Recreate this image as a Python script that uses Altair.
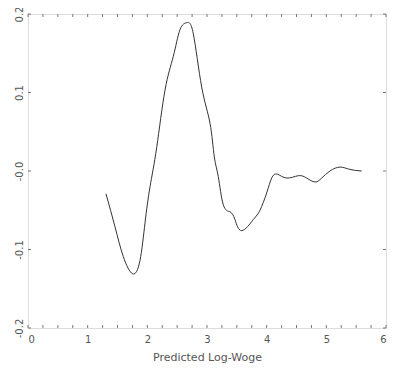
import altair as alt
import pandas as pd

# Curve values
xs = [1.307, 1.458, 1.597, 1.755, 1.877, 1.961, 2.045, 2.157, 2.296, 2.435,
      2.547, 2.660, 2.770, 2.911, 3.050, 3.122, 3.189, 3.273, 3.385, 3.469,
      3.581, 3.776, 3.888, 4.000, 4.084, 4.178, 4.336, 4.530, 4.671, 4.810,
      4.922, 5.061, 5.229, 5.396, 5.593]
ys = [-0.029, -0.071, -0.109, -0.131, -0.114, -0.066, -0.020, 0.030, 0.103, 0.146,
      0.180, 0.189, 0.175, 0.107, 0.061, 0.018, -0.007, -0.043, -0.052, -0.062,
      -0.076, -0.062, -0.050, -0.028, -0.009, -0.004, -0.009, -0.006, -0.009, -0.014,
      -0.009, 0.000, 0.005, 0.002, 0.000]

x_labels = [0, 1, 2, 3, 4, 5, 6]
x_ticks = [i * 0.25 for i in range(25)]
y_ticks = [-0.2, -0.1, 0.0, 0.1, 0.2]

W, H = 358, 314
TICK = 3
GRAY = "#777777"
TXT = "#555555"

curve = pd.DataFrame({"x": xs, "y": ys})
xt = pd.DataFrame({"x": x_ticks})
yt = pd.DataFrame({"y": y_ticks})

xscale = alt.Scale(domain=[0, 6], nice=False, zero=False)
yscale = alt.Scale(domain=[-0.2, 0.2], nice=False, zero=False)

line = alt.Chart(curve).mark_line(color="#333333", strokeWidth=1, interpolate="natural").encode(
    x=alt.X("x:Q", scale=xscale,
            axis=alt.Axis(values=x_labels, format="d", ticks=False, domain=False, grid=False,
                          labelPadding=6, labelColor=TXT, labelFontSize=10,
                          labelFont="DejaVu Sans", title="Predicted Log-Woge",
                          titleFont="DejaVu Sans", titleFontSize=11, titleFontWeight="normal",
                          titleColor=TXT, titlePadding=7)),
    y=alt.Y("y:Q", scale=yscale,
            axis=alt.Axis(values=y_ticks, ticks=False, domain=False, grid=False,
                          labelAngle=-90, labelAlign="center", labelBaseline="bottom",
                          labelPadding=4, labelColor=TXT, labelFontSize=10,
                          labelFont="DejaVu Sans", title=None,
                          labelExpr="abs(datum.value) < 1e-9 ? '-0.0' : replace(format(datum.value, '.1f'), '\u2212', '-')")),
)

bottom_ticks = alt.Chart(xt).mark_rule(color=GRAY, strokeWidth=1).encode(
    x=alt.X("x:Q", scale=xscale), y=alt.value(H), y2=alt.value(H - TICK))
top_ticks = alt.Chart(xt).mark_rule(color=GRAY, strokeWidth=1).encode(
    x=alt.X("x:Q", scale=xscale), y=alt.value(0), y2=alt.value(TICK))
left_ticks = alt.Chart(yt).mark_rule(color=GRAY, strokeWidth=1).encode(
    y=alt.Y("y:Q", scale=yscale), x=alt.value(0), x2=alt.value(TICK))
right_ticks = alt.Chart(yt).mark_rule(color=GRAY, strokeWidth=1).encode(
    y=alt.Y("y:Q", scale=yscale), x=alt.value(W), x2=alt.value(W - TICK))

chart = alt.layer(line, bottom_ticks, top_ticks, left_ticks, right_ticks).properties(
    width=W, height=H,
    autosize=alt.AutoSizeParams(type="none"),
    padding={"left": 20, "top": 6, "right": 1, "bottom": 36},
).configure_view(stroke=GRAY, strokeWidth=1.5).configure(background="white")

chart.save("out.html", embed_options={"renderer": "svg", "actions": False})
